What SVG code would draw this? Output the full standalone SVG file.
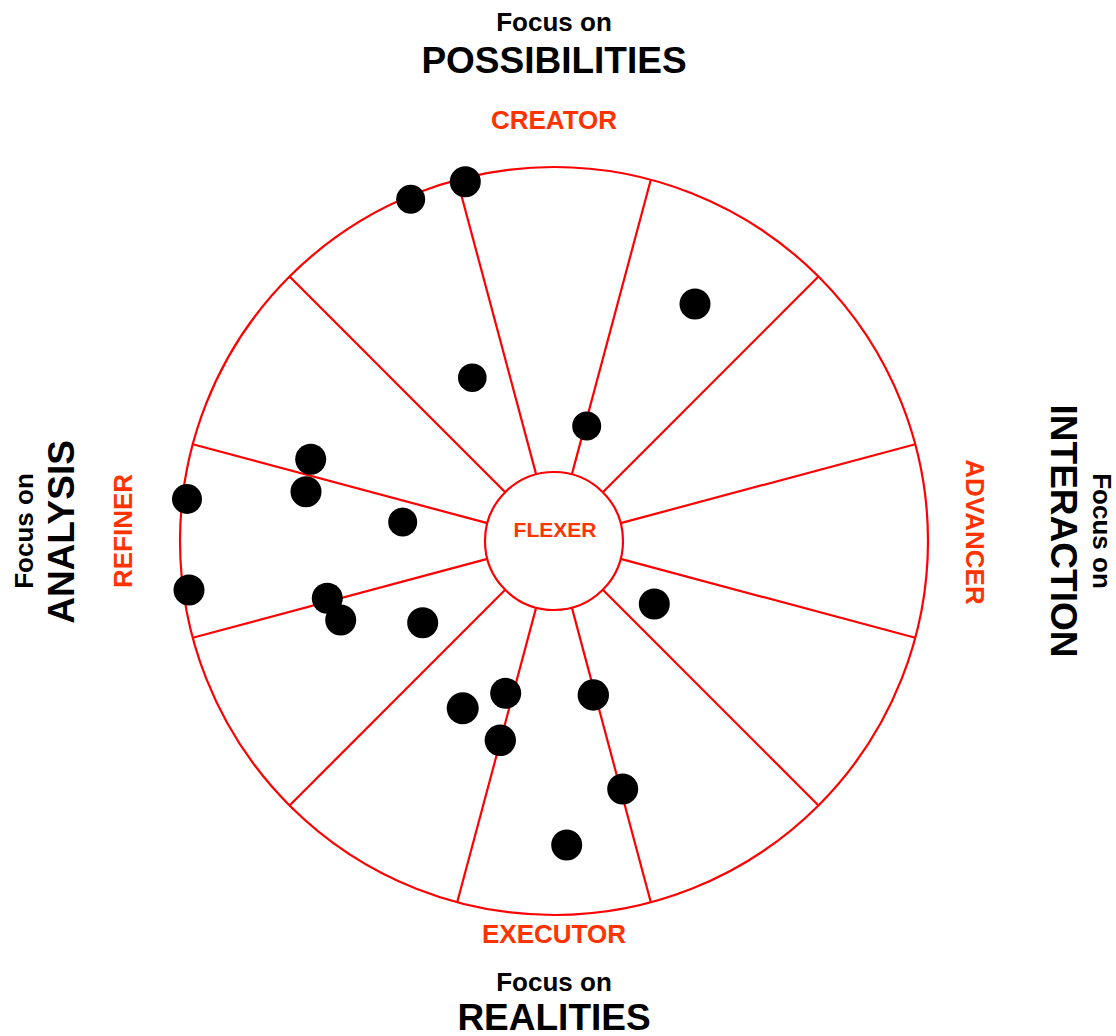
<svg xmlns="http://www.w3.org/2000/svg" width="1116" height="1036" viewBox="0 0 1116 1036">
<style>
text{font-family:"Liberation Sans",Arial,sans-serif;font-weight:bold;text-anchor:middle}
.focus{font-size:26px;fill:#000}
.big{font-size:37px;fill:#000}
.role{font-size:26px;fill:#FF3300}
.ring{fill:#fff;stroke:#FF0000;stroke-width:2.2}
.spoke{stroke:#FF0000;stroke-width:2.2}
.dot{fill:#000}
</style>
<rect width="1116" height="1036" fill="#fff"/>
<g id="wheel">
<circle class="ring" cx="554" cy="541" r="374"/>
</g>
<g id="connectors">
<line class="spoke" x1="571.86" y1="474.35" x2="650.80" y2="179.74"/>
<line class="spoke" x1="602.79" y1="492.21" x2="818.46" y2="276.54"/>
<line class="spoke" x1="620.65" y1="523.14" x2="915.26" y2="444.20"/>
<line class="spoke" x1="620.65" y1="558.86" x2="915.26" y2="637.80"/>
<line class="spoke" x1="602.79" y1="589.79" x2="818.46" y2="805.46"/>
<line class="spoke" x1="571.86" y1="607.65" x2="650.80" y2="902.26"/>
<line class="spoke" x1="536.14" y1="607.65" x2="457.20" y2="902.26"/>
<line class="spoke" x1="505.21" y1="589.79" x2="289.54" y2="805.46"/>
<line class="spoke" x1="487.35" y1="558.86" x2="192.74" y2="637.80"/>
<line class="spoke" x1="487.35" y1="523.14" x2="192.74" y2="444.20"/>
<line class="spoke" x1="505.21" y1="492.21" x2="289.54" y2="276.54"/>
<line class="spoke" x1="536.14" y1="474.35" x2="457.20" y2="179.74"/>
</g>
<g id="flexer">
<circle class="ring" cx="554" cy="541" r="69"/>
<text x="555" y="537" style="font-size:21px;fill:#FF3300">FLEXER</text>
</g>
<g id="top-labels">
<text class="focus" x="554" y="31">Focus on</text>
<text class="big" x="554" y="73">POSSIBILITIES</text>
<text class="role" x="554" y="129">CREATOR</text>
</g>
<g id="bottom-labels">
<text class="role" x="554" y="943">EXECUTOR</text>
<text class="focus" x="554" y="991">Focus on</text>
<text class="big" x="554" y="1030">REALITIES</text>
</g>
<g id="left-labels">
<text class="focus" transform="translate(33,531) rotate(-90)">Focus on</text>
<text class="big" transform="translate(74,532) rotate(-90)">ANALYSIS</text>
<text class="role" transform="translate(132,531) rotate(-90)">REFINER</text>
</g>
<g id="right-labels">
<text class="focus" transform="translate(1093,531) rotate(90)">Focus on</text>
<text class="big" transform="translate(1051,531) rotate(90)">INTERACTION</text>
<text class="role" transform="translate(966,532) rotate(90)">ADVANCER</text>
</g>
<g id="dots">
<circle class="dot" cx="410.7" cy="199.3" r="14.5"/>
<circle class="dot" cx="465.3" cy="181.7" r="15.5"/>
<circle class="dot" cx="695" cy="304" r="15.5"/>
<circle class="dot" cx="472.3" cy="377.7" r="14.3"/>
<circle class="dot" cx="586.7" cy="426" r="14.5"/>
<circle class="dot" cx="310.7" cy="459.3" r="15.5"/>
<circle class="dot" cx="306" cy="491.7" r="15.5"/>
<circle class="dot" cx="187" cy="499" r="15"/>
<circle class="dot" cx="402.7" cy="522" r="14.5"/>
<circle class="dot" cx="189" cy="590" r="15.5"/>
<circle class="dot" cx="327.3" cy="598.3" r="15.5"/>
<circle class="dot" cx="340.7" cy="620" r="15.5"/>
<circle class="dot" cx="422.7" cy="622.7" r="15.5"/>
<circle class="dot" cx="654.3" cy="604" r="15.5"/>
<circle class="dot" cx="462.7" cy="708.3" r="16"/>
<circle class="dot" cx="505.7" cy="693.3" r="15.5"/>
<circle class="dot" cx="593.3" cy="695" r="15.7"/>
<circle class="dot" cx="500.3" cy="740.3" r="15.7"/>
<circle class="dot" cx="622.7" cy="789" r="15.5"/>
<circle class="dot" cx="566.7" cy="845" r="15.5"/>
</g>
</svg>
